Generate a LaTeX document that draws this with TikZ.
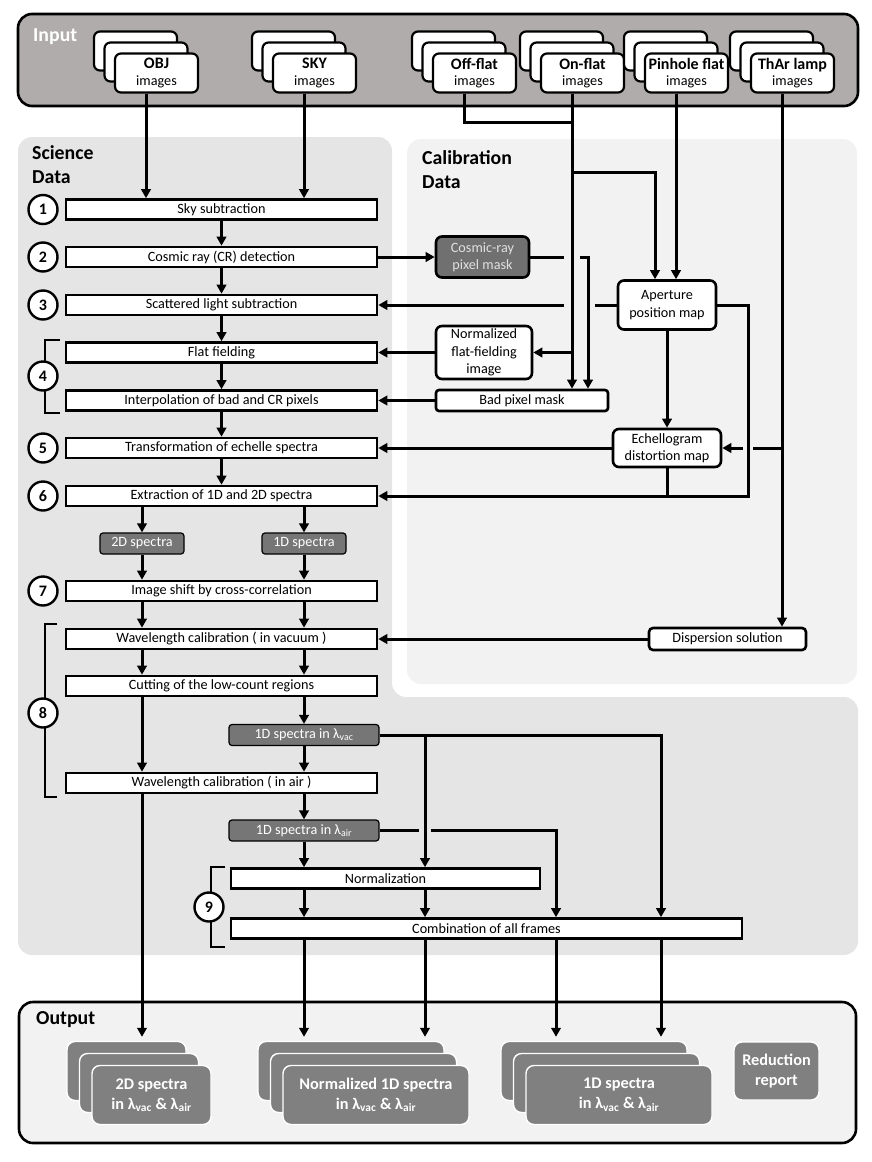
\documentclass[tikz,border=0pt]{standalone}
\usepackage{fontspec}
\setmainfont{Carlito}
\usetikzlibrary{arrows.meta,calc}
\definecolor{inputgray}{RGB}{176,172,171}
\definecolor{scigray}{RGB}{229,229,229}
\definecolor{calgray}{RGB}{242,242,242}
\definecolor{cosmicgray}{RGB}{112,112,112}
\definecolor{specgray}{RGB}{118,118,118}
\definecolor{outgray}{RGB}{128,128,128}
\newcommand{\lamvac}{λ\textsubscript{vac}}
\newcommand{\lamair}{λ\textsubscript{air}}
\tikzset{
  arr/.style={line width=3pt, -{Triangle[length=9pt,width=9.5pt]}},
  ln/.style={line width=3pt},
  stepbox/.style={draw, line width=2.6pt, fill=white, minimum height=20pt, inner sep=0pt, font=\fontsize{14.2}{16}\selectfont},
  rbox/.style={draw, line width=2.6pt, fill=white, rounded corners=6pt, inner sep=0pt, align=center, font=\fontsize{14.2}{17.3}\selectfont},
  inbox/.style={draw, line width=2.2pt, fill=white, rounded corners=6pt, minimum width=83pt, minimum height=39pt, inner sep=0pt, align=center, font=\fontsize{14.2}{16.5}\selectfont},
  specbox/.style={draw, line width=1.2pt, fill=specgray, rounded corners=3pt, text=white, minimum width=84pt, minimum height=21pt, inner sep=0pt, font=\fontsize{14.2}{16}\selectfont},
  outbox/.style={draw=white, line width=1.4pt, fill=outgray, rounded corners=8pt, text=white, inner sep=0pt, align=center, font=\bfseries\fontsize{16.3}{20}\selectfont},
  numc/.style={circle, draw, line width=2.4pt, fill=white, minimum size=29pt, inner sep=0pt, font=\bfseries\fontsize{16}{17}\selectfont},
  seclab/.style={anchor=north west, inner sep=0pt, align=left, font=\bfseries\fontsize{19.8}{24.5}\selectfont},
  brk/.style={line width=1.8pt}
}
\newcommand{\inStack}[4]{%
  \node[inbox] (#1b) at ({#2-10.5},{#3-11}) {};
  \node[inbox] (#1m) at (#2,#3) {};
  \node[inbox] (#1f) at ({#2+10.5},{#3+11}) {{\bfseries\fontsize{16}{16.5}\selectfont #4}\\images};}
\newcommand{\outStack}[5]{%
  \node[outbox, minimum width=#4, minimum height=59pt] (#1b) at (#2,#3) {};
  \node[outbox, minimum width=#4, minimum height=59pt] (#1m) at ({#2+12.5},{#3+12}) {};
  \node[outbox, minimum width=#4, minimum height=59pt] (#1f) at ({#2+25},{#3+24}) {#5};}
\begin{document}
\begin{tikzpicture}[x=1pt,y=-1pt]
\useasboundingbox (0,0) rectangle (872,1162);
% panels
\fill[scigray, rounded corners=14pt] (18,137) -- (392,137) -- (392,697) -- (858,697) -- (858,955) -- (18,955) -- cycle;
\fill[calgray, rounded corners=14pt] (407,139) rectangle (857,684);
\draw[line width=2.6pt, fill=inputgray, rounded corners=14pt] (18,14) rectangle (858,106);
\draw[line width=2.6pt, fill=calgray, rounded corners=14pt] (19,1002) rectangle (856,1143);
\node[seclab, text=white] (inlab) at (33,28) {Input};
\node[seclab] (scilab) at (32,145) {Science\\Data};
\node[seclab] (callab) at (422,150) {Calibration\\Data};
\node[seclab] (outlab) at (36,1011) {Output};
% input stacks
\inStack{obj}{146}{62}{OBJ}
\inStack{sky}{304}{62}{SKY}
\inStack{off}{464}{62}{Off-flat}
\inStack{onf}{572}{62}{On-flat}
\inStack{pin}{676}{62}{Pinhole flat}
\inStack{tha}{782}{62}{ThAr lamp}
% brackets
\draw[brk] (60,340) -- (45,340) -- (45,413) -- (60,413);
\draw[brk] (57,624) -- (45,624) -- (45,797) -- (57,797);
\draw[brk] (225,867) -- (211,867) -- (211,947) -- (225,947);
% science steps
\node[stepbox, minimum width=311pt] (s1) at (221.5,209.5) {Sky subtraction};
\node[stepbox, minimum width=311pt] (s2) at (221.5,257) {Cosmic ray (CR) detection};
\node[stepbox, minimum width=311pt] (s3) at (221.5,305) {Scattered light subtraction};
\node[stepbox, minimum width=311pt] (s4a) at (221.5,352.5) {Flat fielding};
\node[stepbox, minimum width=311pt] (s4b) at (221.5,400.5) {Interpolation of bad and CR pixels};
\node[stepbox, minimum width=311pt] (s5) at (221.5,448) {Transformation of echelle spectra};
\node[stepbox, minimum width=311pt] (s6) at (221.5,496) {Extraction of 1D and 2D spectra};
\node[specbox] (d2) at (142,543.5) {2D spectra};
\node[specbox] (d1) at (304,543.5) {1D spectra};
\node[stepbox, minimum width=311pt] (s7) at (221.5,591) {Image shift by cross-correlation};
\node[stepbox, minimum width=311pt] (wlvac) at (221.5,639) {Wavelength calibration ( in vacuum )};
\node[stepbox, minimum width=311pt] (cut) at (221.5,686) {Cutting of the low-count regions};
\node[specbox, minimum width=150pt] (lvac) at (304,735) {1D spectra in \lamvac};
\node[stepbox, minimum width=311pt] (wlair) at (221.5,783) {Wavelength calibration ( in air )};
\node[specbox, minimum width=150pt] (lair) at (304,830.5) {1D spectra in \lamair};
\node[stepbox, minimum width=309pt] (norm) at (385.5,878.5) {Normalization};
\node[stepbox, minimum width=511pt] (comb) at (486.5,928.5) {Combination of all frames};
% numbers
\node[numc] (n1) at (43,209.5) {1};
\node[numc] (n2) at (43,257) {2};
\node[numc] (n3) at (43,305) {3};
\node[numc] (n4) at (43,376) {4};
\node[numc] (n5) at (43,448) {5};
\node[numc] (n6) at (43,496) {6};
\node[numc] (n7) at (43,591) {7};
\node[numc] (n8) at (43,713) {8};
\node[numc] (n9) at (209,907) {9};
% calibration
\node[rbox, fill=cosmicgray, text=white!88!black, minimum width=93pt, minimum height=41pt] (cosmic) at (482.5,257) {Cosmic-ray\\pixel mask};
\node[rbox, minimum width=98pt, minimum height=49pt] (aper) at (667,305) {Aperture\\position map};
\node[rbox, minimum width=96pt, minimum height=53pt] (nflat) at (484,352.5) {Normalized\\flat-fielding\\image};
\node[rbox, rounded corners=3pt, minimum width=172pt, minimum height=21pt] (bad) at (522,400.5) {Bad pixel mask};
\node[rbox, minimum width=108pt, minimum height=38pt] (ech) at (667,448) {Echellogram\\distortion map};
\node[rbox, rounded corners=4pt, minimum width=157pt, minimum height=22pt] (disp) at (727.5,639) {Dispersion solution};
% output
\outStack{o2}{126.5}{1071}{119pt}{2D spectra\\in \lamvac\ \& \lamair}
\outStack{onr}{351}{1071}{186pt}{Normalized 1D spectra\\in \lamvac\ \& \lamair}
\outStack{o1}{594}{1071}{186pt}{1D spectra\\in \lamvac\ \& \lamair}
\node[outbox, minimum width=85pt, minimum height=58pt] (rep) at (776.5,1071) {Reduction\\report};
% helper coordinates
\coordinate (joff) at (0,122);
\coordinate (jap) at (0,172);
\coordinate (apl) at (655,0);
\coordinate (rv) at (748,0);
\coordinate (cv) at (588,0);
\coordinate (bx) at (425,0);
\coordinate (mx) at (556,0);
\coordinate (rx) at (661,0);
% input connectors
\draw[arr] (objm.south |- objf.south) -- (objm.south |- s1.north);
\draw[arr] (skym.south |- skyf.south) -- (skym.south |- s1.north);
\draw[ln] (offm.south |- offf.south) |- (onfm.south |- joff);
\draw[arr] (onfm.south |- onff.south) -- (onfm.south |- bad.north);
\draw[arr] (onfm.south |- jap) -| (apl |- aper.north);
\draw[arr] (pinm.south |- pinf.south) -- (pinm.south |- aper.north);
\draw[arr] (onfm.south |- nflat.east) -- (nflat.east);
\draw[arr] (tham.south |- thaf.south) -- (tham.south |- disp.north);
% calibration connectors
\draw[ln] (tham.south |- ech.east) -- ($(rv |- ech.east)+(5,0)$);
\draw[arr] ($(rv |- ech.east)+(-5,0)$) -- (ech.east);
\draw[arr] (aper.east) -| (rv |- s6.east) -- (s6.east);
\draw[ln] (ech.south) -- (ech.south |- s6.east);
\draw[arr] (aper.south) -- (ech.north);
\draw[arr] (ech.west) -- (s5.east);
\draw[arr] (s2.east) -- (cosmic.west);
\draw[ln] (cosmic.east) -- ($(onfm.south |- cosmic.east)+(-8,0)$);
\draw[arr] ($(onfm.south |- cosmic.east)+(8,0)$) -| (cv |- bad.north);
\draw[ln] (aper.west) -- ($(cv |- aper.west)+(7,0)$);
\draw[arr] ($(onfm.south |- aper.west)+(-8,0)$) -- (s3.east);
\draw[arr] (nflat.west) -- (s4a.east);
\draw[arr] (bad.west) -- (s4b.east);
\draw[arr] (disp.west) -- (wlvac.east);
% main flow
\draw[arr] (s1) -- (s2);
\draw[arr] (s2) -- (s3);
\draw[arr] (s3) -- (s4a);
\draw[arr] (s4a) -- (s4b);
\draw[arr] (s4b) -- (s5);
\draw[arr] (s5) -- (s6);
\draw[arr] (d2.north |- s6.south) -- (d2.north);
\draw[arr] (d1.north |- s6.south) -- (d1.north);
\draw[arr] (d2.south) -- (d2.south |- s7.north);
\draw[arr] (d1.south) -- (d1.south |- s7.north);
\draw[arr] (d2.south |- s7.south) -- (d2.south |- wlvac.north);
\draw[arr] (d1.south |- s7.south) -- (d1.south |- wlvac.north);
\draw[arr] (d2.south |- wlvac.south) -- (d2.south |- cut.north);
\draw[arr] (d1.south |- wlvac.south) -- (d1.south |- cut.north);
\draw[arr] (d2.south |- cut.south) -- (d2.south |- wlair.north);
\draw[arr] (d1.south |- cut.south) -- (lvac.north);
\draw[arr] (lvac.south) -- (lvac.south |- wlair.north);
\draw[arr] (lvac.south |- wlair.south) -- (lair.north);
\draw[arr] (lair.south) -- (lair.south |- norm.north);
\draw[arr] (lvac.east) -| (rx |- comb.north);
\draw[arr] (bx |- lvac.east) -- (bx |- norm.north);
\draw[ln] (lair.east) -- ($(bx |- lair.east)+(-6,0)$);
\draw[arr] ($(bx |- lair.east)+(6,0)$) -| (mx |- comb.north);
\draw[arr] (lair.south |- norm.south) -- (lair.south |- comb.north);
\draw[arr] (bx |- norm.south) -- (bx |- comb.north);
% to output
\draw[arr, shorten >=4pt] (d2.south |- wlair.south) -- (d2.south |- o2b.north);
\draw[arr, shorten >=4pt] (lair.south |- comb.south) -- (lair.south |- onrb.north);
\draw[arr, shorten >=4pt] (bx |- comb.south) -- (bx |- onrb.north);
\draw[arr, shorten >=4pt] (mx |- comb.south) -- (mx |- o1b.north);
\draw[arr, shorten >=4pt] (rx |- comb.south) -- (rx |- o1b.north);
\end{tikzpicture}
\end{document}
